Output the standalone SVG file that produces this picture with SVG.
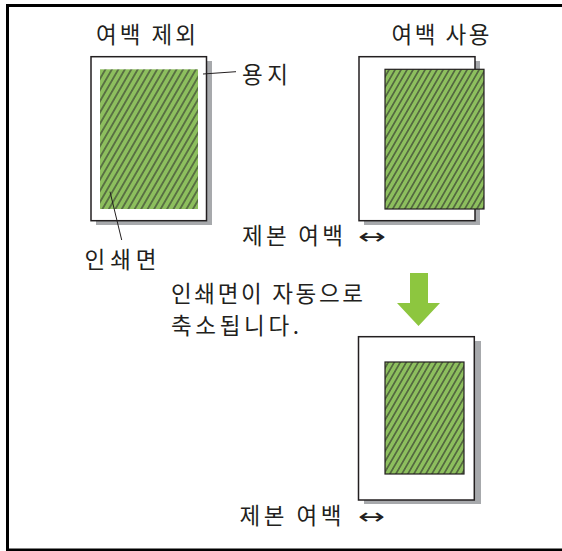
<svg xmlns="http://www.w3.org/2000/svg" width="562" height="551" viewBox="0 0 562 551">
  <defs>
    <pattern id="hatch" patternUnits="userSpaceOnUse" width="5.6" height="10" patternTransform="rotate(30)">
      <rect width="5.6" height="10" fill="#8dbf5e"/>
      <line x1="2.8" y1="-1" x2="2.8" y2="11" stroke="#2a2a2a" stroke-width="1"/>
    </pattern>
    <pattern id="hatch2" patternUnits="userSpaceOnUse" width="5.2" height="10" patternTransform="rotate(30)">
      <rect width="5.2" height="10" fill="#8dbf5e"/>
      <line x1="2.6" y1="-1" x2="2.6" y2="11" stroke="#2a2a2a" stroke-width="1"/>
    </pattern>
  </defs>
  <style>
    .t { font-family: "Noto Sans CJK KR", "Noto Sans", sans-serif; font-size: 22.5px; fill: #231f20; }
    .sym { font-family: "DejaVu Sans", sans-serif; font-size: 22px; fill: #231f20; }
    .page { fill: #ffffff; stroke: #231f20; stroke-width: 1.5; }
    .shadow { fill: #a7a9ac; }
    .print { fill: url(#hatch); }
    .printb { fill: url(#hatch2); stroke: #231f20; stroke-width: 1.2; }
    .lead { stroke: #231f20; stroke-width: 1; fill: none; }
  </style>

  <rect x="7.5" y="5.5" width="560" height="544.5" fill="#ffffff" stroke="#000000" stroke-width="3"/>

  <g id="page-left">
    <rect class="shadow" x="96" y="61" width="116" height="164"/>
    <rect class="page" x="91" y="56.7" width="115.5" height="164"/>
    <rect class="print" x="100" y="69.3" width="98" height="139.7"/>
  </g>

  <g id="page-right">
    <rect class="shadow" x="364" y="61" width="116" height="164"/>
    <rect class="page" x="359" y="56.7" width="116" height="164"/>
    <rect class="printb" x="385" y="69.3" width="99" height="139.7"/>
  </g>

  <g id="page-bottom">
    <rect class="shadow" x="364" y="341" width="117" height="163"/>
    <rect class="page" x="358.5" y="336.7" width="115.8" height="163.3"/>
    <rect class="printb" x="385" y="362" width="79" height="112"/>
  </g>

  <g id="arrow">
    <polygon points="410,273 428,273 428,303 440,303 418.5,326 397,303 410,303" fill="#8dc63f"/>
  </g>

  <g id="connectors">
    <line class="lead" x1="203" y1="74" x2="236" y2="71.7"/>
    <line class="lead" x1="110" y1="191.7" x2="121.7" y2="240"/>
  </g>

  <g id="labels">
    <text class="t" x="96" y="43" textLength="100" lengthAdjust="spacing">여백 제외</text>
    <text class="t" x="391.5" y="43" textLength="98" lengthAdjust="spacing">여백 사용</text>
    <text class="t" x="242" y="83" textLength="46" lengthAdjust="spacing">용지</text>
    <text class="t" x="84.5" y="268" textLength="72" lengthAdjust="spacing">인쇄면</text>
    <text class="t" x="242" y="244" textLength="101" lengthAdjust="spacing">제본 여백</text>
    <text class="sym" x="358" y="244" textLength="28" lengthAdjust="spacingAndGlyphs">↔</text>
    <text class="t" x="171" y="302" textLength="192" lengthAdjust="spacing">인쇄면이 자동으로</text>
    <text class="t" x="171" y="334" textLength="128" lengthAdjust="spacing">축소됩니다.</text>
    <text class="t" x="239.5" y="524" textLength="102" lengthAdjust="spacing">제본 여백</text>
    <text class="sym" x="358" y="524" textLength="27" lengthAdjust="spacingAndGlyphs">↔</text>
  </g>
</svg>
